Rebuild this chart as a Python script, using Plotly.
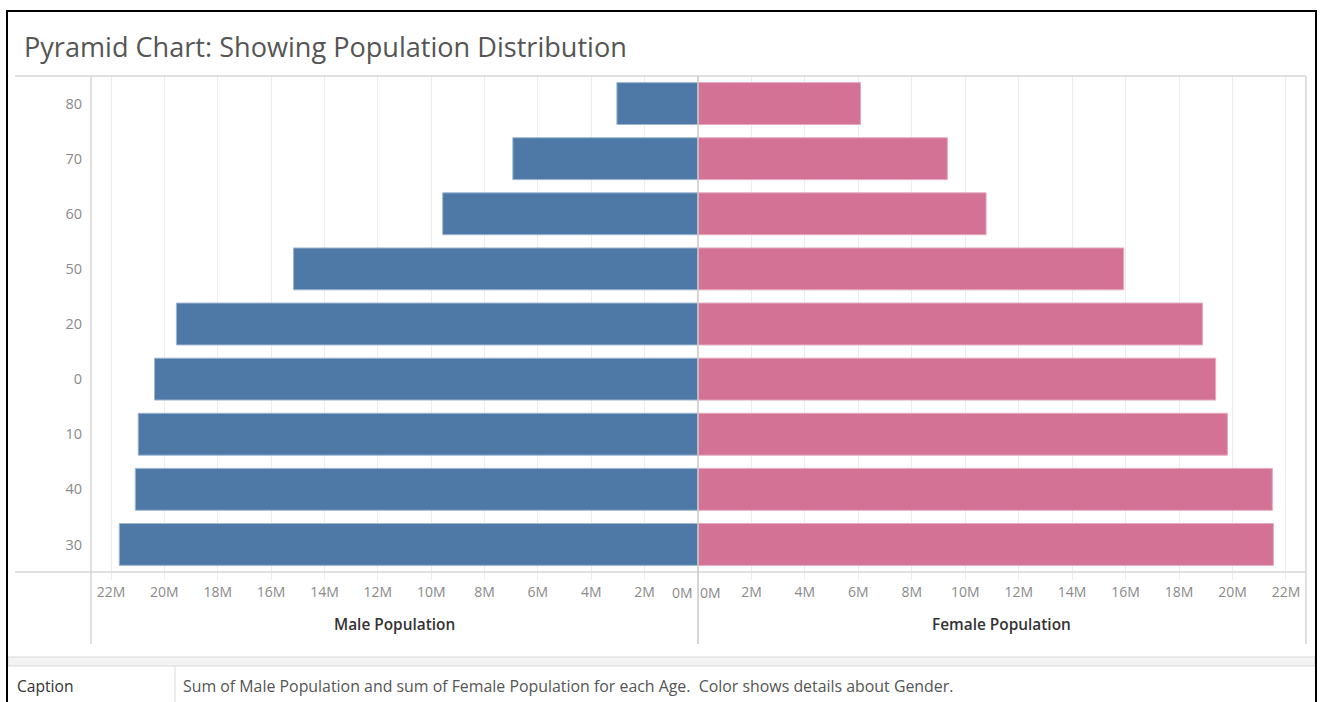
import plotly.graph_objects as go
from plotly.subplots import make_subplots

ages = ["80", "70", "60", "50", "20", "0", "10", "40", "30"]
male_pop = [3.04e6, 6.94e6, 9.57e6, 15.16e6, 19.55e6, 20.37e6, 20.98e6, 21.09e6, 21.69e6]
female_pop = [6.08e6, 9.33e6, 10.78e6, 15.93e6, 18.88e6, 19.37e6, 19.81e6, 21.49e6, 21.53e6]
tick_values = [i * 2e6 for i in range(12)]
tick_labels = ["" if v == 0 else f"{int(v/1e6)}M" for v in tick_values]

W, H = 1323, 702
FONT = "Open Sans"
BLUE = "#4E79A7"
PINK = "#D37295"
TICKC = "#8a8a8a"

def px(x):
    return x / W

def py(y):
    return 1 - y / H

fig = make_subplots(rows=1, cols=2, shared_yaxes=True, horizontal_spacing=0)

fig.add_trace(go.Bar(y=ages, x=male_pop, orientation="h", marker_color=BLUE,
                     marker_line=dict(color="#9fb6cf", width=1), name="Male"), row=1, col=1)
fig.add_trace(go.Bar(y=ages, x=female_pop, orientation="h", marker_color=PINK,
                     marker_line=dict(color="#e6a9bf", width=1), name="Female"), row=1, col=2)

XMAX = 22.75e6
common_x = dict(tickvals=tick_values, ticktext=tick_labels, showgrid=True, gridcolor="#ececec",
                gridwidth=1, zeroline=False, showline=False, ticks="outside", ticklen=7,
                tickcolor="#ececec", tickfont=dict(family=FONT, size=14, color=TICKC),
                fixedrange=True)
fig.update_xaxes(range=[XMAX, 0], domain=[px(91), px(698)], row=1, col=1, **common_x)
fig.update_xaxes(range=[0, XMAX], domain=[px(698), px(1306)], row=1, col=2, **common_x)
fig.update_yaxes(categoryorder="array", categoryarray=ages, autorange="reversed",
                 domain=[py(572), py(76)], showgrid=False, zeroline=False, showline=False,
                 ticks="", ticklabelstandoff=8, fixedrange=True,
                 tickfont=dict(family=FONT, size=14.5, color=TICKC))

fig.update_layout(width=W, height=H, margin=dict(l=0, r=0, t=0, b=0),
                  plot_bgcolor="white", paper_bgcolor="white", showlegend=False,
                  bargap=0.24, font=dict(family=FONT))

LINE = "#d6d6d6"
shapes = [
    dict(type="line", xref="paper", yref="paper", x0=px(15), x1=px(1306), y0=py(76), y1=py(76),
         line=dict(color=LINE, width=1.5)),
    dict(type="line", xref="paper", yref="paper", x0=px(15), x1=px(1306), y0=py(572), y1=py(572),
         line=dict(color=LINE, width=1.5)),
    dict(type="line", xref="paper", yref="paper", x0=px(91), x1=px(91), y0=py(76), y1=py(644),
         line=dict(color=LINE, width=1.5)),
    dict(type="line", xref="paper", yref="paper", x0=px(698), x1=px(698), y0=py(76), y1=py(644),
         line=dict(color="#c8c8c8", width=1.5)),
    dict(type="line", xref="paper", yref="paper", x0=px(1306), x1=px(1306), y0=py(76), y1=py(644),
         line=dict(color=LINE, width=1.5)),
    dict(type="rect", xref="paper", yref="paper", x0=px(8), x1=px(1315), y0=py(666), y1=py(657),
         fillcolor="#f3f3f3", line=dict(color="#d9d9d9", width=1)),
    dict(type="line", xref="paper", yref="paper", x0=px(175), x1=px(175), y0=py(666), y1=py(705),
         line=dict(color="#dcdcdc", width=1)),
    dict(type="rect", xref="paper", yref="paper", x0=px(7), x1=px(1316), y0=py(706), y1=py(11),
         line=dict(color="black", width=2), fillcolor="rgba(0,0,0,0)"),
]
fig.update_layout(shapes=shapes)

annotations = [
    dict(text="Pyramid Chart: Showing Population Distribution", xref="paper", yref="paper",
         x=px(22), y=py(46), xanchor="left", yanchor="middle", showarrow=False,
         font=dict(family=FONT, size=27.1, color="#555555")),
    dict(text="Male Population", xref="paper", yref="paper", x=px(394), y=py(624),
         xanchor="center", yanchor="middle", showarrow=False,
         font=dict(family=FONT, size=15.4, color="#333333", weight=600)),
    dict(text="Female Population", xref="paper", yref="paper", x=px(1001), y=py(624),
         xanchor="center", yanchor="middle", showarrow=False,
         font=dict(family=FONT, size=15.4, color="#333333", weight=600)),
    dict(text="0M", xref="x", yref="paper", x=0, y=py(592), xanchor="right", xshift=-3,
         yanchor="middle", showarrow=False, font=dict(family=FONT, size=14, color=TICKC)),
    dict(text="0M", xref="x2", yref="paper", x=0, y=py(592), xanchor="left", xshift=0,
         yanchor="middle", showarrow=False, font=dict(family=FONT, size=14, color=TICKC)),
    dict(text="Caption", xref="paper", yref="paper", x=px(15), y=py(686), xanchor="left",
         yanchor="middle", showarrow=False, font=dict(family=FONT, size=15.6, color="#333333")),
    dict(text="Sum of Male Population and sum of Female Population for each Age.  Color shows details about Gender.",
         xref="paper", yref="paper", x=px(181), y=py(686), xanchor="left", yanchor="middle",
         showarrow=False, font=dict(family=FONT, size=15.9, color="#555555")),
]
fig.update_layout(annotations=annotations)

fig.write_html("out.html", config={"displayModeBar": False},
               post_script="document.body.style.margin='0';document.body.style.overflow='hidden';")
